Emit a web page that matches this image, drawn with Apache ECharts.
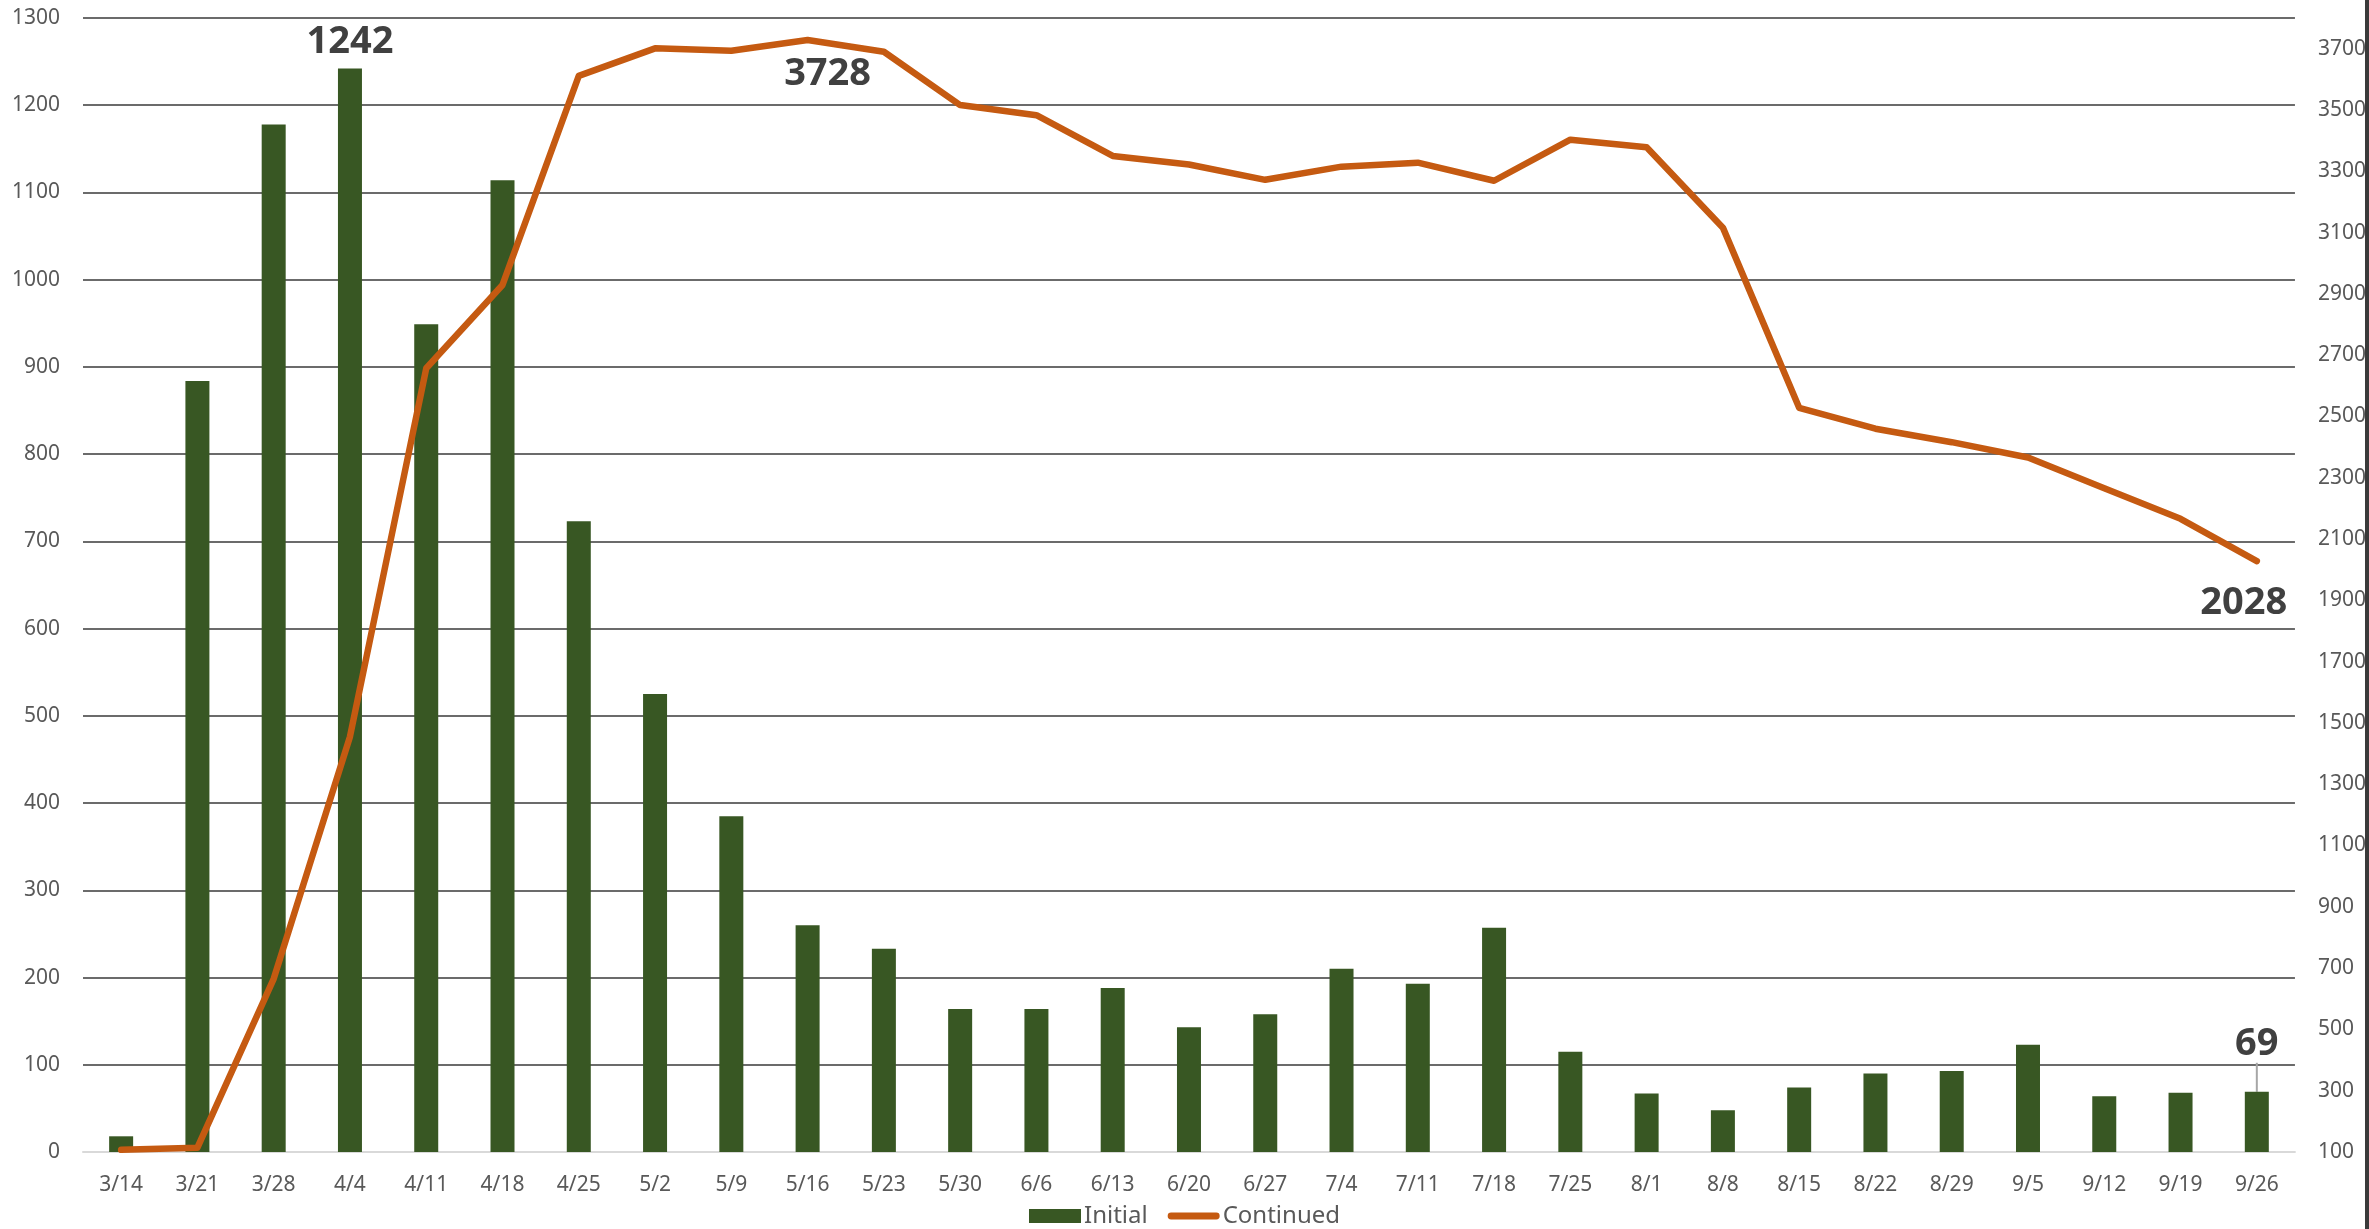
<!DOCTYPE html>
<html>
    <head>
        <meta charset="utf-8">
        <title>Initial / Continued</title>
        <script src="https://cdn.jsdelivr.net/npm/echarts@6/dist/echarts.min.js"></script>
        <style>
            html, body { margin: 0; padding: 0; background: #fff; }
            #chart1 { width: 2369px; height: 1229px; }
        </style>
    </head>
    <body>
        <div id="chart1"></div>
    </body>
    <script type="text/javascript">
        // 数据
        var weeks = ['3/14', '3/21', '3/28', '4/4', '4/11', '4/18', '4/25', '5/2', '5/9', '5/16',
            '5/23', '5/30', '6/6', '6/13', '6/20', '6/27', '7/4', '7/11', '7/18', '7/25',
            '8/1', '8/8', '8/15', '8/22', '8/29', '9/5', '9/12', '9/19', '9/26'];
        var initialClaims = [18, 884, 1178, 1242, 949, 1114, 723, 525, 385, 260,
            233, 164, 164, 188, 143, 158, 210, 193, 257, 115,
            67, 48, 74, 90, 93, 123, 64, 68, 69];
        var continuedClaims = [107, 114, 665, 1455, 2657, 2929, 3611, 3701, 3693, 3728,
            3690, 3516, 3483, 3350, 3322, 3272, 3315, 3328, 3269, 3403,
            3378, 3116, 2528, 2460, 2416, 2366, 2266, 2166, 2028];
        // 标注的点
        var barNotes = [3, 28];
        var lineNotes = [9, 28];

        var font = 'Noto Sans';
        var green = '#385723';
        var orange = '#C55A11';

        var noteLabel = {
            show: true,
            fontFamily: font,
            fontSize: 38,
            fontWeight: 'bold',
            color: '#404040'
        };

        var barData = initialClaims.map(function (v, i) {
            if (barNotes.indexOf(i) < 0) return v;
            var item = { value: v, label: Object.assign({ position: 'top', distance: 7 }, noteLabel) };
            if (i === 28) {
                item.label.distance = 4;
                item.labelLine = { show: true, lineStyle: { color: '#a6a6a6', width: 2 } };
            }
            return item;
        });

        var lineData = continuedClaims.map(function (v, i) {
            if (lineNotes.indexOf(i) < 0) return v;
            var lbl = Object.assign({ position: 'bottom' }, noteLabel);
            lbl.distance = (i === 9) ? 15 : 23;
            return { value: v, symbol: 'circle', symbolSize: 1, label: lbl };
        });

        var gridColors = ['#D9D9D9'];
        for (var k = 0; k < 13; k++) gridColors.push('#6b6b6b');

        var myChart1 = echarts.init(document.getElementById('chart1'));
        myChart1.setOption({
            backgroundColor: '#ffffff',
            animation: false,
            grid: { left: 83, right: 73, top: 18, bottom: 77 },
            legend: {
                bottom: -4,
                left: 'center',
                itemWidth: 52,
                itemHeight: 14,
                itemGap: 20,
                textStyle: { fontFamily: font, fontSize: 24, color: '#595959', padding: [0, 0, 0, -2] },
                data: [
                    { name: 'Initial', icon: 'rect' },
                    { name: 'Continued', icon: 'path://M0,0 M52,14 M3,3.5 L49,3.5 A3.5,3.5 0 0 1 49,10.5 L3,10.5 A3.5,3.5 0 0 1 3,3.5 Z' }
                ]
            },
            xAxis: {
                type: 'category',
                data: weeks,
                axisTick: { show: false },
                axisLine: { lineStyle: { color: '#D9D9D9', width: 2 } },
                axisLabel: { fontFamily: font, fontSize: 21, color: '#595959', margin: 23, interval: 0 }
            },
            yAxis: [{
                type: 'value',
                min: 0,
                max: 1300,
                interval: 100,
                axisLine: { show: false },
                axisTick: { show: false },
                axisLabel: {
                    fontFamily: font, fontSize: 21, color: '#595959', margin: 23,
                    formatter: function (v) { return String(v); }
                },
                splitLine: { lineStyle: { color: gridColors, width: 2 } }
            }, {
                type: 'value',
                position: 'right',
                min: 100,
                max: 3800,
                interval: 100,
                axisLine: { show: false },
                axisTick: { show: false },
                splitLine: { show: false },
                axisLabel: {
                    fontFamily: font, fontSize: 21, color: '#595959', margin: 23,
                    formatter: function (v) {
                        return ((v - 100) % 200 === 0 && v < 3800) ? String(v) : '';
                    }
                }
            }],
            series: [{
                name: 'Initial',
                type: 'bar',
                barWidth: 24,
                itemStyle: { color: green },
                labelLayout: function (params) {
                    if (params.dataIndex === 28) return { dy: -25 };
                },
                data: barData
            }, {
                name: 'Continued',
                type: 'line',
                yAxisIndex: 1,
                symbol: 'none',
                lineStyle: { color: orange, width: 6.5, cap: 'round', join: 'round' },
                itemStyle: { color: orange },
                z: 5,
                labelLayout: function (params) {
                    if (params.dataIndex === 9) return { dx: 20 };
                    if (params.dataIndex === 28) return { dx: -13 };
                },
                data: lineData
            }],
            graphic: [{
                type: 'rect',
                left: 2365,
                top: 0,
                shape: { width: 4, height: 1229 },
                style: { fill: '#3a3a3a' }
            }]
        });
    </script>
</html>
